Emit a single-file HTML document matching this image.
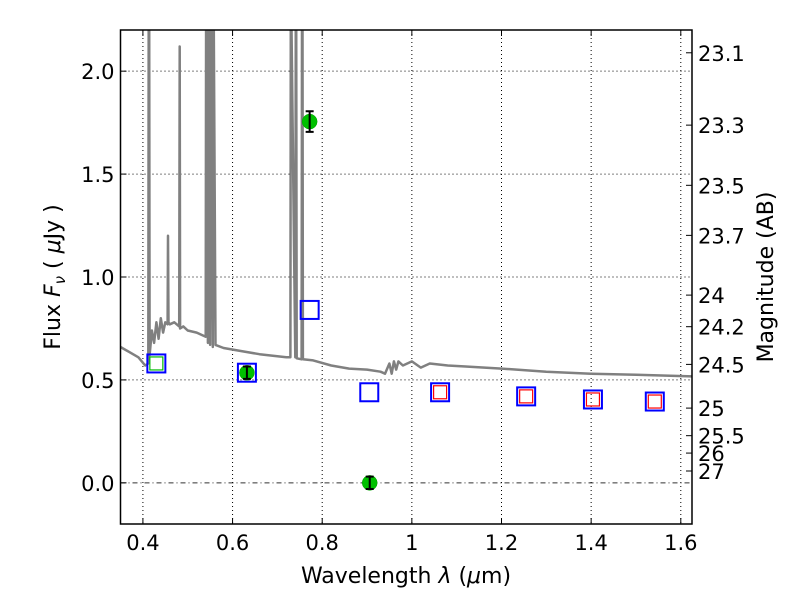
<!DOCTYPE html>
<html><head><meta charset="utf-8">
<style>
html,body{margin:0;padding:0;background:#fff;}
svg text{font-family:"DejaVu Sans","Liberation Sans",sans-serif;}
</style></head>
<body>
<svg id="chart" width="800" height="600" viewBox="0 0 800 600" xmlns="http://www.w3.org/2000/svg"></svg>
<script>
const specWave = [0.35,0.39,0.405,0.412,0.413,0.414,0.415,0.42,0.425,0.43,0.435,0.44,0.445,0.45,0.455,0.456,0.457,0.46,0.47,0.481,0.482,0.483,0.49,0.5,0.52,0.54,0.541,0.542,0.545,0.546,0.548,0.55,0.551,0.552,0.556,0.557,0.558,0.562,0.58,0.62,0.66,0.72,0.729,0.73,0.731,0.74,0.741,0.742,0.743,0.754,0.755,0.756,0.757,0.78,0.82,0.86,0.9,0.93,0.94,0.95,0.955,0.96,0.965,0.97,0.98,1.0,1.02,1.04,1.08,1.12,1.2,1.3,1.4,1.5,1.625];
const specFlux = [0.66,0.61,0.57,0.58,2.3,2.3,0.62,0.74,0.68,0.78,0.7,0.8,0.73,0.78,0.77,1.2,0.78,0.77,0.78,0.76,2.12,0.75,0.76,0.74,0.73,0.71,2.3,2.3,0.68,2.3,2.3,0.67,2.3,2.3,0.66,2.3,2.3,0.67,0.655,0.64,0.625,0.61,0.61,2.3,2.3,0.61,2.3,2.3,0.605,0.6,2.3,2.3,0.6,0.595,0.57,0.555,0.55,0.54,0.53,0.58,0.53,0.59,0.55,0.59,0.57,0.59,0.56,0.58,0.57,0.565,0.555,0.54,0.53,0.525,0.517];
const obsWave = [0.772,0.632,0.906];
const obsFlux = [1.755,0.535,0.0];
const obsErr = [0.05,0.03,0.03];
const modelWave = [0.43,0.632,0.772,0.905,1.063,1.255,1.404,1.542];
const modelFlux = [0.58,0.535,0.84,0.44,0.44,0.42,0.405,0.395];
const redWave = [1.063,1.255,1.404,1.542];
const redFlux = [0.44,0.42,0.405,0.395];
const greenSqWave = [0.43];
const greenSqFlux = [0.58];
const xTicks = [0.4,0.6,0.8,1.0,1.2,1.4,1.6];
const xTickLabels = ["0.4","0.6","0.8","1","1.2","1.4","1.6"];
const yTicks = [0.0,0.5,1.0,1.5,2.0];
const yTickLabels = ["0.0","0.5","1.0","1.5","2.0"];
const magTicks = [23.1,23.3,23.5,23.7,24,24.2,24.5,25,25.5,26,27];
const magLabels = ["23.1","23.3","23.5","23.7","24","24.2","24.5","25","25.5","26","27"];

const L=120.5,R=692,T=30,B=524;
const x0=0.35,x1=1.625,y0=-0.2,y1=2.2;
const sx=v=>L+(v-x0)/(x1-x0)*(R-L);
const sy=v=>B-(v-y0)/(y1-y0)*(B-T);
const NS="http://www.w3.org/2000/svg";
const svg=document.getElementById('chart');
function mk(tag,attrs,parent){const e=document.createElementNS(NS,tag);for(const k in attrs)e.setAttribute(k,attrs[k]);(parent||svg).appendChild(e);return e;}

const defs=mk('defs',{});
const cp=mk('clipPath',{id:'clip'},defs);
mk('rect',{x:L,y:T,width:R-L,height:B-T},cp);

xTicks.forEach((t)=>{const g=mk('line',{x1:sx(t),x2:sx(t),y1:T,y2:B,stroke:'#000','stroke-width':1,'stroke-dasharray':'1,3'});

});
yTicks.forEach((t)=>{if(t===0)return;const g=mk('line',{x1:L,x2:R,y1:sy(t),y2:sy(t),stroke:'#000','stroke-width':1,'stroke-dasharray':'1,3'});

});
const zl=mk('line',{x1:L,x2:R,y1:sy(0),y2:sy(0),stroke:'#000','stroke-width':1,'stroke-dasharray':'5,3,1,3','opacity':0.8});



const gp=mk('g',{'clip-path':'url(#clip)'});
let d='';specWave.forEach((w,i)=>{d+=(i?'L':'M')+sx(w).toFixed(1)+','+sy(specFlux[i]).toFixed(1);});
const sp=mk('path',{d:d,fill:'none',stroke:'#808080','stroke-width':2.5,'stroke-linejoin':'round'},gp);



modelWave.forEach((w,i)=>{const r=mk('rect',{x:sx(w)-9,y:sy(modelFlux[i])-9,width:18,height:18,fill:'none',stroke:'#0000ff','stroke-width':2});

});
redWave.forEach((w,i)=>{const r=mk('rect',{x:sx(w)-6.5,y:sy(redFlux[i])-6.5,width:13,height:13,fill:'none',stroke:'#ff0000','stroke-width':1.2});

});
greenSqWave.forEach((w,i)=>{const r=mk('rect',{x:sx(w)-6.5,y:sy(greenSqFlux[i])-6.5,width:13,height:13,fill:'none',stroke:'#00bb00','stroke-width':1.2});

});

obsWave.forEach((w,i)=>{const cx=sx(w),cy=sy(obsFlux[i]);
const c=mk('circle',{cx:cx,cy:cy,r:7.5,fill:'#00c000',stroke:'#00a000','stroke-width':0.5});


const yt=sy(obsFlux[i]+obsErr[i]),yb=sy(obsFlux[i]-obsErr[i]);
const e=mk('path',{d:`M${cx},${yt}L${cx},${yb}M${cx-4},${yt}L${cx+4},${yt}M${cx-4},${yb}L${cx+4},${yb}`,stroke:'#000','stroke-width':2,fill:'none'});

});

const fr=mk('rect',{x:L,y:T,width:R-L,height:B-T,fill:'none',stroke:'#000','stroke-width':1.5});



xTicks.forEach((t,i)=>{const x=sx(t);
mk('line',{x1:x,x2:x,y1:B,y2:B-6,stroke:'#000'});mk('line',{x1:x,x2:x,y1:T,y2:T+6,stroke:'#000'});
const tx=mk('text',{x:x,y:B+26,'font-size':21,'text-anchor':'middle'});tx.textContent=xTickLabels[i];

});
yTicks.forEach((t,i)=>{const y=sy(t);
mk('line',{x1:L,x2:L+6,y1:y,y2:y,stroke:'#000'});
const tx=mk('text',{x:L-6,y:y+8,'font-size':21,'text-anchor':'end'});tx.textContent=yTickLabels[i];

});
magTicks.forEach((m,i)=>{const y=sy(Math.pow(10,(23.9-m)/2.5));
mk('line',{x1:R-6,x2:R,y1:y,y2:y,stroke:'#000'});
const tx=mk('text',{x:R+6,y:y+8,'font-size':21,'text-anchor':'start'});tx.textContent=magLabels[i];

});

const xt=mk('text',{x:406,y:583,'font-size':22,'text-anchor':'middle'});
xt.innerHTML='Wavelength  <tspan font-style="italic">λ</tspan> (<tspan font-style="italic">μ</tspan>m)';


const yt=mk('text',{x:0,y:0,'font-size':22,'text-anchor':'middle',transform:'translate(60,277) rotate(-90)'});
yt.innerHTML='Flux  <tspan font-style="italic">F</tspan><tspan font-style="italic" font-size="15" dy="5">ν</tspan><tspan dy="-5">  (  </tspan><tspan font-style="italic">μ</tspan>Jy )';


const rt=mk('text',{x:0,y:0,'font-size':22,'text-anchor':'middle',transform:'translate(773,277) rotate(-90)'});
rt.textContent='Magnitude (AB)';


</script>
</body></html>
